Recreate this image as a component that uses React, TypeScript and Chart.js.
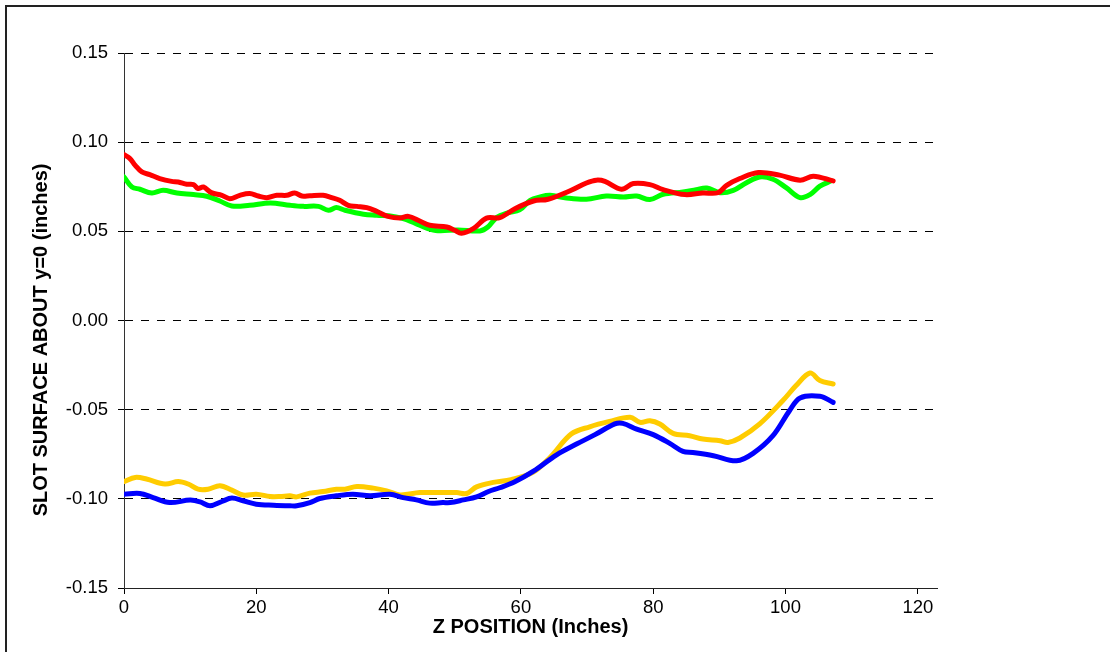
import React, { useEffect, useRef } from 'react';
import { Chart, registerables } from 'chart.js';

Chart.register(...registerables);

// Z positions (inches) and surface values (inches)
const redZ = [0, 0.9, 1.7, 2.7, 3.9, 5.4, 7.2, 8.2, 9.5, 10.5, 11.2, 12.0, 13.2, 14.8, 16.0, 17.5, 19.0, 20.3, 21.6, 23.1, 24.6, 25.8, 26.9, 28.1, 30.1, 31.4, 32.6, 33.9, 35.2, 36.7, 38.2, 39.9, 41.7, 43.0, 44.7, 46.2, 48.8, 50.0, 51.0, 52.8, 54.8, 56.8, 59.1, 61.9, 64.1, 67.6, 69.9, 71.4, 72.7, 75.2, 77.0, 79.5, 81.5, 84.8, 87.5, 89.8, 91.1, 93.1, 95.9, 99.1, 102.2, 104.2, 107.2];
const redY = [0.093, 0.0908, 0.087, 0.0833, 0.0818, 0.0796, 0.078, 0.0777, 0.0764, 0.0762, 0.074, 0.0749, 0.0717, 0.0702, 0.0683, 0.0702, 0.0712, 0.0698, 0.0689, 0.0702, 0.0702, 0.0715, 0.0698, 0.07, 0.0702, 0.0689, 0.0674, 0.0646, 0.064, 0.0633, 0.0612, 0.0584, 0.0575, 0.0584, 0.0558, 0.0534, 0.0524, 0.0506, 0.0489, 0.0515, 0.0574, 0.0577, 0.0627, 0.067, 0.068, 0.073, 0.0771, 0.0787, 0.078, 0.0736, 0.0768, 0.0762, 0.0734, 0.0706, 0.0715, 0.0717, 0.0758, 0.0796, 0.083, 0.0815, 0.0787, 0.0809, 0.0783];

const greenZ = [0, 1.2, 2.4, 4.2, 5.9, 8.0, 10.5, 12.5, 14.5, 16.3, 19.0, 22.1, 25.1, 27.1, 29.4, 30.9, 32.1, 33.4, 36.2, 38.2, 40.7, 42.7, 44.7, 47.1, 50.5, 53.8, 55.0, 56.3, 58.0, 59.8, 61.4, 62.9, 64.4, 66.9, 69.9, 72.9, 75.5, 77.5, 79.5, 81.5, 84.5, 86.5, 88.1, 90.1, 92.1, 94.1, 96.1, 98.1, 100.1, 102.2, 103.7, 105.2, 106.9];
const greenY = [0.0805, 0.0749, 0.0736, 0.0715, 0.073, 0.0715, 0.0706, 0.0697, 0.067, 0.0642, 0.0646, 0.0659, 0.0646, 0.064, 0.064, 0.0618, 0.0633, 0.0618, 0.0596, 0.059, 0.0584, 0.0566, 0.0534, 0.0505, 0.0508, 0.0502, 0.0524, 0.0577, 0.0604, 0.062, 0.0674, 0.0693, 0.0702, 0.0687, 0.068, 0.0698, 0.0693, 0.0698, 0.0678, 0.0708, 0.0721, 0.0734, 0.0743, 0.0717, 0.073, 0.0773, 0.0805, 0.0792, 0.0745, 0.0689, 0.0706, 0.0753, 0.0783];

const yellowZ = [0, 1.7, 3.4, 6.2, 8.2, 9.7, 11.2, 12.7, 14.5, 16.3, 18.0, 20.0, 22.1, 23.6, 25.1, 26.1, 28.1, 30.1, 32.1, 33.4, 35.2, 37.7, 39.7, 41.7, 44.7, 47.8, 50.3, 51.8, 53.3, 55.8, 58.5, 61.8, 64.4, 67.6, 70.4, 73.4, 76.5, 78.0, 79.5, 81.0, 83.0, 85.5, 87.5, 90.1, 91.3, 93.1, 96.1, 99.6, 101.6, 103.7, 105.2, 107.2];
const yellowY = [-0.0903, -0.088, -0.0889, -0.0917, -0.0903, -0.0917, -0.0946, -0.0946, -0.0927, -0.0951, -0.0979, -0.0974, -0.0987, -0.0987, -0.0983, -0.0989, -0.0968, -0.0959, -0.0946, -0.0946, -0.0931, -0.094, -0.0955, -0.0978, -0.0965, -0.0965, -0.0965, -0.097, -0.0933, -0.0908, -0.0892, -0.0852, -0.0768, -0.0637, -0.0596, -0.0566, -0.0543, -0.0571, -0.0562, -0.058, -0.0633, -0.0646, -0.0665, -0.0674, -0.0684, -0.0659, -0.058, -0.0449, -0.0365, -0.0294, -0.0337, -0.0356];

const blueZ = [0, 2.4, 4.4, 6.9, 10.0, 11.5, 13.0, 14.8, 16.3, 18.0, 20.0, 22.6, 25.1, 26.1, 28.1, 29.6, 32.1, 34.6, 37.2, 40.2, 42.2, 44.2, 46.2, 48.2, 49.3, 51.3, 53.3, 55.1, 56.8, 59.0, 61.9, 65.4, 68.4, 71.2, 74.2, 75.4, 77.5, 80.0, 82.5, 84.5, 86.0, 89.1, 92.6, 95.1, 98.1, 100.6, 102.2, 105.2, 107.2];
const blueY = [-0.0974, -0.097, -0.0993, -0.1021, -0.1007, -0.1017, -0.1039, -0.1015, -0.0996, -0.1011, -0.103, -0.1036, -0.1039, -0.1039, -0.1021, -0.0998, -0.0983, -0.0974, -0.0983, -0.0974, -0.0993, -0.1006, -0.1024, -0.1021, -0.1021, -0.1006, -0.0989, -0.0959, -0.0938, -0.0906, -0.0845, -0.0753, -0.0693, -0.064, -0.058, -0.0577, -0.0609, -0.064, -0.0689, -0.0734, -0.074, -0.0758, -0.0787, -0.0745, -0.0646, -0.0506, -0.0434, -0.0425, -0.0459];

const xTickValues = [0, 20, 40, 60, 80, 100, 120];
const xAxisTitle = 'Z POSITION (Inches)';
const yAxisTitle = 'SLOT SURFACE ABOUT y=0 (inches)';

const pts = (xs: number[], ys: number[]) => xs.map((x, i) => ({ x, y: ys[i] }));

export default function App() {
  const ref = useRef<HTMLCanvasElement | null>(null);

  useEffect(() => {
    document.body.style.margin = '0';
    const canvas = ref.current;
    if (!canvas) return;
    const lineStyle = {
      borderWidth: 5,
      pointRadius: 0,
      tension: 0.35,
      borderCapStyle: 'round' as const,
      borderJoinStyle: 'round' as const,
      fill: false,
    };
    const tickFont = { family: '"Liberation Sans", Arial, sans-serif', size: 18.5 };
    const titleFont = { family: '"Liberation Sans", Arial, sans-serif', size: 20, weight: 'bold' as const };
    const chart = new Chart(canvas, {
      type: 'line',
      data: {
        datasets: [
          { label: 'red', data: pts(redZ, redY), borderColor: '#FF0000', ...lineStyle },
          { label: 'green', data: pts(greenZ, greenY), borderColor: '#00FF00', ...lineStyle },
          { label: 'blue', data: pts(blueZ, blueY), borderColor: '#0000FF', ...lineStyle },
          { label: 'yellow', data: pts(yellowZ, yellowY), borderColor: '#FFCC00', ...lineStyle },
        ],
      },
      options: {
        animation: false,
        responsive: false,
        devicePixelRatio: 1,
        events: [],
        layout: { padding: { left: 0, top: 53, right: 173, bottom: 0 } },
        plugins: { legend: { display: false }, tooltip: { enabled: false } },
        scales: {
          x: {
            type: 'linear',
            bounds: 'data',
            min: 0,
            max: 122.9,
            afterBuildTicks: (scale: any) => {
              scale.ticks = xTickValues.map((v) => ({ value: v }));
            },
            afterFit: (scale: any) => {
              scale.height = 64;
            },
            grid: {
              drawOnChartArea: false,
              drawTicks: true,
              tickLength: 6,
              color: '#000',
              lineWidth: 1,
            },
            border: { display: true, color: '#222', width: 1 },
            ticks: {
              color: '#000',
              font: tickFont,
              padding: 3,
              maxRotation: 0,
              callback: (v: any) => String(v),
            },
            title: {
              display: true,
              text: xAxisTitle,
              color: '#000',
              font: titleFont,
              padding: { top: 0, bottom: 13 },
            },
          },
          y: {
            type: 'linear',
            min: -0.15,
            max: 0.15,
            afterFit: (scale: any) => {
              scale.width = 124;
            },
            grid: {
              drawOnChartArea: true,
              drawTicks: true,
              tickLength: 6,
              color: '#000',
              lineWidth: 1,
              tickColor: '#000',
            },
            border: { display: true, color: '#333', width: 1, dash: [8, 8] },
            ticks: {
              stepSize: 0.05,
              color: '#000',
              font: tickFont,
              padding: 10,
              callback: (v: any) => Number(v).toFixed(2),
            },
            title: {
              display: true,
              text: yAxisTitle + '       ',
              color: '#000',
              font: titleFont,
              padding: { top: 29, bottom: 0 },
            },
          },
        },
      },
    });
    return () => chart.destroy();
  }, []);

  return (
    <div style={{ position: 'relative', width: 1110, height: 652, overflow: 'hidden', background: '#fff' }}>
      <div
        style={{
          position: 'absolute',
          left: 5,
          top: 5,
          width: 1200,
          height: 800,
          borderLeft: '2px solid #222',
          borderTop: '2px solid #222',
          boxSizing: 'border-box',
        }}
      />
      <canvas ref={ref} width={1110} height={652} style={{ position: 'absolute', left: 0, top: 0 }} />
    </div>
  );
}
